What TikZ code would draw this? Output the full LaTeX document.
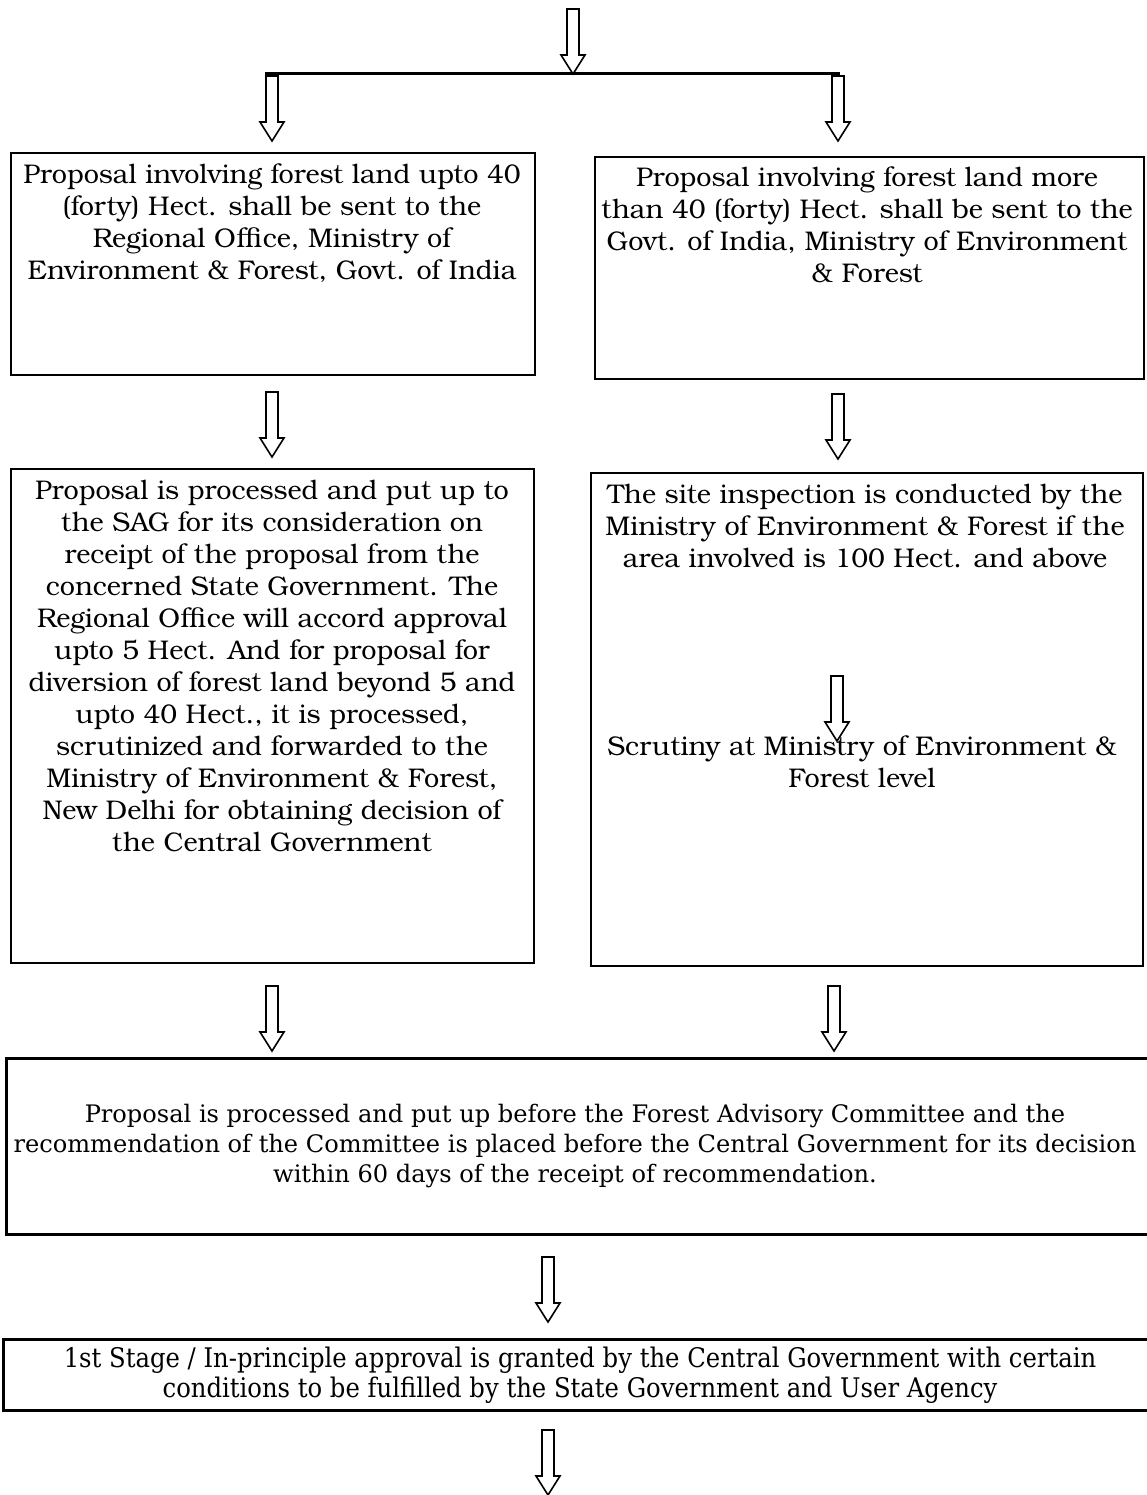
\documentclass[tikz,border=0pt]{standalone}
\usepackage{fontspec}
\setmainfont{TeX Gyre Bonum}
\newfontfamily\slabfont{DejaVu Serif}
\newfontfamily\slabnarrow[FakeStretch=0.9]{DejaVu Serif}
\tikzset{
    box/.style={draw, line width=2pt, inner sep=0pt, outer sep=0pt, anchor=north west},
    widebox/.style={box, line width=3pt},
    boxtext/.style={align=center, inner sep=0pt, anchor=north, font=\fontsize{27}{32}\selectfont},
    arrowline/.style={draw, line width=1.6pt, line join=miter, fill=white},
}
% hollow block arrow pointing down, #1 name of its tail, (#2,#3) tail
\newcommand\FlowArrow[3]{%
    \coordinate (#1) at (#2,#3);
    \draw[arrowline] (#1) ++(-6,0) -- ++(12,0) -- ++(0,46) -- ++(6,0)
        -- ++(-12,19) coordinate (#1tip) -- ++(-12,-19) -- ++(6,0) -- cycle;
}
\begin{document}
\begin{tikzpicture}[x=1pt,y=-1pt]
    \useasboundingbox (0,0) rectangle (1146,1495);
    % split at the top
    \coordinate (splitW) at (265,74);
    \coordinate (splitE) at (840,74);
    \draw[line width=3pt] (splitW) -- (splitE);
    \FlowArrow{aTop}{573}{9}
    \FlowArrow{aL1}{272}{76}
    \FlowArrow{aR1}{838}{76}
    % up to 40 Hect.
    \node[box, minimum width=524pt, minimum height=222pt] (L1) at (11,153) {};
    \node[boxtext] (L1text) at (272,163) {Proposal involving forest land upto 40\\(forty) Hect. shall be sent to the\\Regional Office, Ministry of\\Environment \& Forest, Govt. of India};
    \FlowArrow{aL2}{272}{392}
    \node[box, minimum width=523pt, minimum height=494pt] (L2) at (11,469) {};
    \node[boxtext] (L2text) at (272,480) {Proposal is processed and put up to\\the SAG for its consideration on\\receipt of the proposal from the\\concerned State Government. The\\Regional Office will accord approval\\upto 5 Hect. And for proposal for\\diversion of forest land beyond 5 and\\upto 40 Hect., it is processed,\\scrutinized and forwarded to the\\Ministry of Environment \& Forest,\\New Delhi for obtaining decision of\\the Central Government};
    \FlowArrow{aL4}{272}{986}
    % more than 40 Hect.
    \node[box, minimum width=549pt, minimum height=222pt] (R1) at (595,157) {};
    \node[boxtext] (R1text) at (867,166) {Proposal involving forest land more\\than 40 (forty) Hect. shall be sent to the\\Govt. of India, Ministry of Environment\\\& Forest};
    \FlowArrow{aR2}{838}{394}
    \node[box, minimum width=552pt, minimum height=493pt] (R2) at (591,473) {};
    \node[boxtext] (R2text) at (865,484) {The site inspection is conducted by the\\Ministry of Environment \& Forest if the\\area involved is 100 Hect. and above};
    \node[boxtext] (R3text) at (862,735) {Scrutiny at Ministry of Environment \&\\Forest level};
    \FlowArrow{aR3}{837}{676}
    \FlowArrow{aR4}{834}{986}
    % committee and approval
    \node[widebox, minimum width=1150pt, minimum height=176pt] (FAC) at (6,1058) {};
    \node[align=center, inner sep=0pt, font=\slabfont\fontsize{24.1}{30}\selectfont] (FACtext) at (575,1146) {Proposal is processed and put up before the Forest Advisory Committee and the\\recommendation of the Committee is placed before the Central Government for its decision\\within 60 days of the receipt of recommendation.};
    \FlowArrow{aC5}{548}{1257}
    \node[widebox, minimum width=1150pt, minimum height=71pt] (Stage) at (3,1339) {};
    \node[align=center, inner sep=0pt, font=\slabnarrow\fontsize{27}{30}\selectfont] (Stagetext) at (580,1375) {1st Stage / In-principle approval is granted by the Central Government with certain\\conditions to be fulfilled by the State Government and User Agency};
    \FlowArrow{aC6}{548}{1430}
\end{tikzpicture}
\end{document}
